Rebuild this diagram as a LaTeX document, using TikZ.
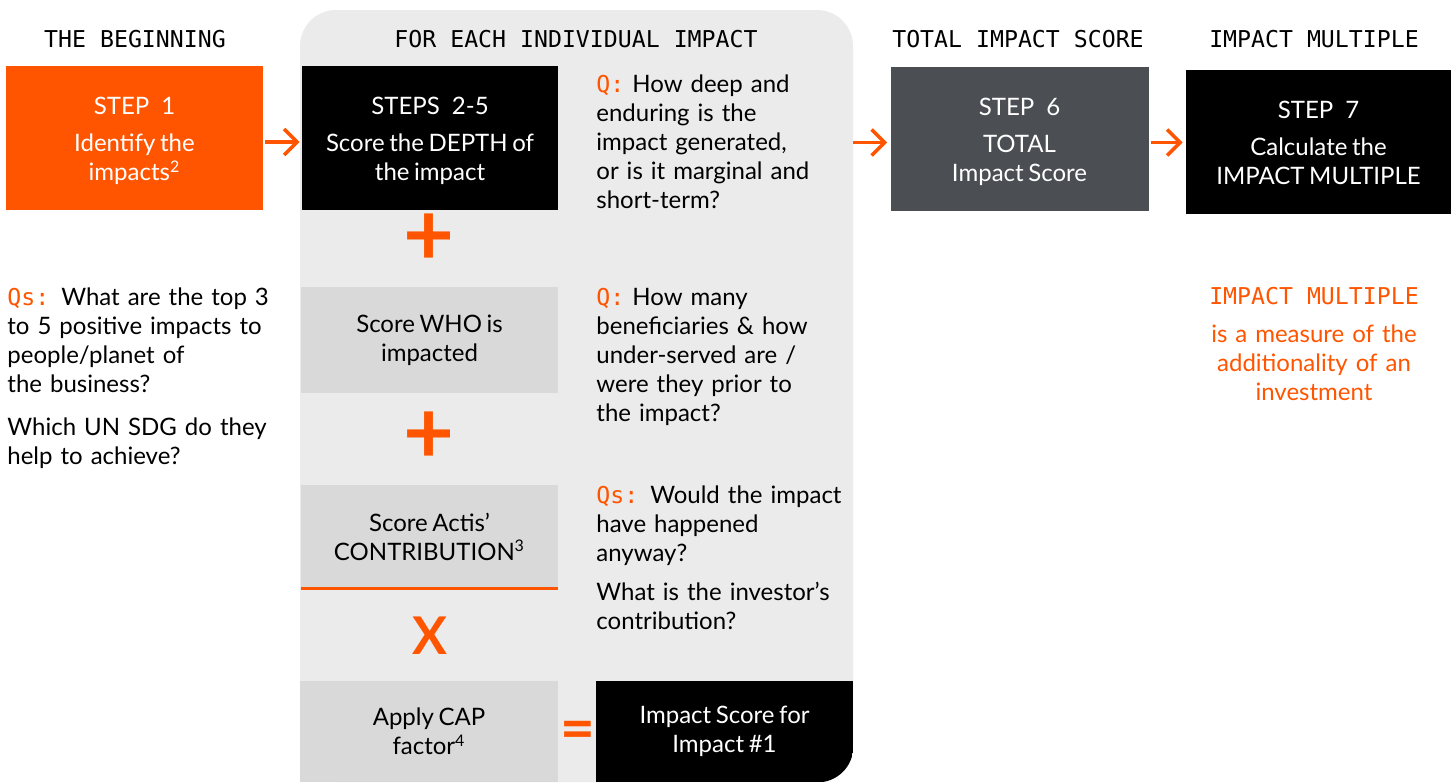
\documentclass[tikz,border=0pt]{standalone}
\usepackage{fontspec}
\setmainfont[WordSpace=0.75]{Lato}
\newfontfamily\monofont{DejaVu Sans Mono}
\usetikzlibrary{arrows.meta}

\definecolor{actisorange}{RGB}{255,85,0}
\definecolor{stepgrey}{RGB}{75,78,83}
\definecolor{panelgrey}{RGB}{235,235,235}
\definecolor{boxgrey}{RGB}{217,217,217}

\newcommand{\bodyfont}{\fontsize{12}{14.5}\selectfont}
\newcommand{\headfont}{\monofont\fontsize{11.6}{14.5}\selectfont}
\newcommand{\qlabel}[1]{{\headfont\color{actisorange}#1}}
\newcommand{\steptext}[2]{\rule{0pt}{12.5pt}#1\\[4pt] #2\rule[-2.6pt]{0pt}{2.6pt}}

\tikzset{
	panel/.style={fill=panelgrey, rounded corners=18pt, inner sep=0pt, minimum width=276.5pt, minimum height=386pt},
	header/.style={font=\headfont, anchor=base, inner sep=0pt},
	stepbox/.style={font=\bodyfont, text=white, align=center, inner sep=0pt, minimum width=128.5pt, minimum height=72pt},
	scorebox/.style={font=\bodyfont, fill=boxgrey, align=center, inner sep=0pt, minimum width=128.5pt},
	question/.style={font=\bodyfont, anchor=base west, inner sep=0pt, text width=128pt, align=left},
	operator/.style={font=\fontsize{44}{44}\selectfont\bfseries, text=actisorange, inner sep=0pt},
	flow/.style={actisorange, line width=1.75pt, -{Straight Barb[length=6.5pt,width=13pt]}}
}

\begin{document}
\begin{tikzpicture}[x=0.5pt,y=-0.5pt]
	\useasboundingbox (0,0) rectangle (1451,782);
	
	% Draw the grey panel behind the individual impact steps
	\node[panel] (impactpanel) at (576.5,396) {};
	
	% Draw headers
	\node[header] (hbegin) at (135,47) {THE BEGINNING};
	\node[header] (hpanel) at (576,47) {FOR EACH INDIVIDUAL IMPACT};
	\node[header] (htotal) at (1018,47) {TOTAL IMPACT SCORE};
	\node[header] (hmult) at (1314,47) {IMPACT MULTIPLE};
	
	% Draw step boxes
	\node[stepbox, fill=actisorange] (step1) at (134.5,138) {\steptext{STEP\enspace 1}{Identify the\\ impacts\textsuperscript{2}}};
	\node[stepbox, fill=black, minimum width=128pt] (steps25) at (430,138) {\steptext{STEPS\enspace 2-5}{Score the DEPTH of\\ the impact}};
	\node[stepbox, fill=stepgrey, minimum width=129pt] (step6) at (1019.5,138.5) {\steptext{STEP\enspace 6}{TOTAL\\ Impact Score}};
	\node[stepbox, fill=black, minimum width=132.5pt] (step7) at (1318.5,141.5) {\steptext{STEP\enspace 7}{Calculate the\\ IMPACT MULTIPLE}};
	
	% Draw score boxes inside the panel
	\node[scorebox, minimum height=53pt] (who) at (429.5,340) {Score WHO is\\ impacted};
	\node[scorebox, minimum height=51.5pt] (contrib) at (429.5,536.5) {Score Actis’\\ CONTRIBUTION\textsuperscript{3}};
	\draw[actisorange, line width=1.5pt] (contrib.south west) -- (contrib.south east);
	\node[scorebox, minimum width=129pt, minimum height=50.5pt] (cap) at (429,731.5) {Apply CAP\\ factor\textsuperscript{4}};
	\begin{scope}
		\clip[rounded corners=18pt] (impactpanel.north west) rectangle (impactpanel.south east);
		\node[scorebox, fill=black, text=white, minimum height=50.5pt] (score1) at (724.5,731.5) {Impact Score for\\ Impact \#1};
	\end{scope}
	
	% Draw operators
	\node[operator] (plus1) at (429,240) {+};
	\node[operator] (plus2) at (429,438) {+};
	\node[operator, font=\fontsize{26}{26}\selectfont\bfseries] (times) at (430,636) {X};
	\node[operator, font=\fontsize{30}{30}\selectfont\bfseries] (equals) at (577.5,735) {=};
	
	% Draw questions
	\node[question, text width=132pt] (qbegin) at (7,305) {\qlabel{Qs:} What are the top 3\\ to 5 positive impacts to\\ people/planet of\\ the business?\\[7pt] Which UN SDG do they\\ help to achieve?};
	\node[question] (qdepth) at (596,92) {\qlabel{Q:} How deep and\\ enduring is the\\ impact generated,\\ or is it marginal and\\ short-term?};
	\node[question] (qwho) at (596,305) {\qlabel{Q:} How many\\ beneficiaries \& how\\ under-served are /\\ were they prior to\\ the impact?};
	\node[question] (qcontrib) at (596,503) {\qlabel{Qs:} Would the impact\\ have happened\\ anyway?\\[5pt] What is the investor’s\\ contribution?};
	
	% Draw the impact multiple note
	\node[header, text=actisorange] (hmultnote) at (1314,304) {IMPACT MULTIPLE};
	\node[font=\bodyfont, text=actisorange, align=center, anchor=base, text width=120pt, inner sep=0pt] (multnote) at (1314,342) {is a measure of the\\ additionality of an\\ investment};
	
	% Draw arrows
	\draw[flow, shorten <=1pt, shorten >=1pt] ([yshift=-2pt]step1.east) -- ([yshift=-2pt]steps25.west);
	\draw[flow, shorten >=1.5pt] ([yshift=-2pt]impactpanel.east |- step6.west) -- ([yshift=-2pt]step6.west);
	\draw[flow, shorten <=1pt, shorten >=1.5pt] ([yshift=-2pt]step6.east) -- ([yshift=-2pt]step6.east -| step7.west);
	
\end{tikzpicture}
\end{document}
